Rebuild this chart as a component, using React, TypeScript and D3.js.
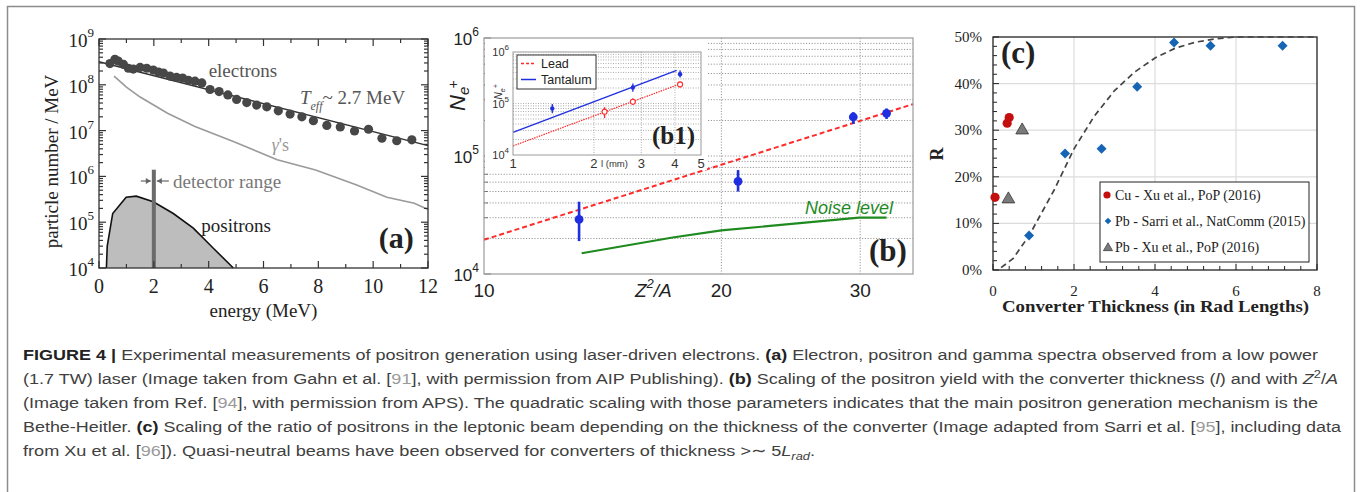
import React from "react";
import * as d3 from "d3";

// ---------- (a) spectra from a 1.7 TW laser ----------
const electronEnergy = [0.4, 0.58, 0.7, 0.89, 1.07, 1.25, 1.5, 1.74, 1.98, 2.17, 2.35, 2.59, 2.83, 3.05, 3.26, 3.5, 3.75, 4.05, 4.38, 4.7, 5.02, 5.39, 5.75, 6.12, 6.54, 6.97, 7.4, 7.82, 8.31, 8.8, 9.32, 9.83, 10.32, 10.86, 11.41];
const electronCount = [2.9e8, 3.6e8, 3.3e8, 2.8e8, 2.3e8, 2.2e8, 2.4e8, 2.3e8, 2.1e8, 1.9e8, 1.8e8, 1.55e8, 1.45e8, 1.4e8, 1.25e8, 1.2e8, 1.1e8, 7.9e7, 7.1e7, 6.0e7, 4.8e7, 4.1e7, 3.6e7, 3.3e7, 2.7e7, 2.3e7, 2.0e7, 1.65e7, 1.3e7, 1.2e7, 9.8e6, 1.07e7, 6.8e6, 6.0e6, 6.3e6];
const electronFitEnergy = [0, 12];
const electronFitCount = [3.2e8, 4.7e6];
const gammaEnergy = [0.55, 1.0, 1.5, 2.5, 3.5, 4.9, 6.5, 7.9, 9.4, 10.5, 11.5, 12.0];
const gammaCount = [1.55e8, 8.9e7, 5.4e7, 2.4e7, 1.23e7, 5.8e6, 2.3e6, 1.38e6, 6.5e5, 3.5e5, 2.6e5, 1.9e5];
const positronEnergy = [0.27, 0.3, 0.5, 0.99, 1.36, 1.98, 2.71, 3.44, 4.17, 4.9];
const positronCount = [1e4, 3.0e4, 1.55e5, 3.5e5, 3.7e5, 2.8e5, 1.55e5, 7.4e4, 2.7e4, 1e4];
const detectorEnergy = 2;
const detectorTop = 1.4e6;
const energyTicks = [0, 2, 4, 6, 8, 10, 12];

// ---------- (b) yield vs Z^2/A ----------
const zOverA = [13.2, 21.0, 29.4, 32.4];
const yieldVal = [2.9e4, 6.1e4, 2.14e5, 2.3e5];
const yieldLo = [1.9e4, 5.0e4, 1.87e5, 2.06e5];
const yieldHi = [4.1e4, 7.6e4, 2.35e5, 2.53e5];
const fitZ = [10, 35];
const fitYield = [1.95e4, 2.75e5];
const noiseZ = [13.3, 17.35, 20.0, 29.9, 32.4];
const noiseYield = [1.5e4, 2.04e4, 2.34e4, 3.0e4, 3.0e4];
const zTicks = [10, 20, 30];

// ---------- (b1) yield vs thickness ----------
const taThick = [1.4, 2.79, 4.18];
const taVal = [8e4, 2.05e5, 3.7e5];
const taLo = [6.5e4, 1.7e5, 3.2e5];
const taHi = [9.8e4, 2.45e5, 4.4e5];
const pbThick = [2.19, 2.79, 4.18];
const pbVal = [6.9e4, 1.08e5, 2.35e5];
const pbLo = [5.2e4, 9.3e4, 2.05e5];
const pbHi = [8.5e4, 1.26e5, 2.65e5];
const taFitThick = [1, 4.06];
const taFitVal = [2.75e4, 4.4e5];
const pbFitThick = [1, 4.18];
const pbFitVal = [1.5e4, 2.4e5];
const thickTicks = [1, 2, 3, 4, 5];

// ---------- (c) positron fraction vs converter thickness ----------
const cuThick = [0.05, 0.35, 0.4];
const cuR = [15.6, 31.5, 32.7];
const sarriThick = [0.89, 1.78, 2.68, 3.56, 4.47, 5.37, 7.15];
const sarriR = [7.4, 25.0, 26.0, 39.3, 48.8, 48.1, 48.1];
const xuPbThick = [0.38, 0.72];
const xuPbR = [15.4, 30.2];
const curveThick = [0.2, 0.5, 0.9, 1.5, 2.0, 2.5, 3.0, 3.5, 4.0, 4.5, 5.0, 5.5, 6.0, 7.0, 8.0];
const curveR = [0.5, 2.5, 7.5, 17, 26, 33, 38.5, 42.5, 45.5, 47.6, 48.9, 49.6, 50, 50, 50];
const radTicks = [0, 2, 4, 6, 8];
const rTicks = [0, 10, 20, 30, 40, 50];

type P = [number, number];
const pairs = (xs: number[], ys: number[]): P[] => xs.map((v, i) => [v, ys[i]]);

function logMinor(lo: number, hi: number) {
  const out: number[] = [];
  for (let e = lo; e < hi; e++) for (let m = 1; m <= 9; m++) out.push(m * 10 ** e);
  out.push(10 ** hi);
  return out;
}

const SERIF = "'Liberation Serif', 'Times New Roman', serif";
const SANS = "'Liberation Sans', Arial, Helvetica, sans-serif";

function PanelA() {
  const x = d3.scaleLinear().domain([0, 12]).range([99, 428]);
  const y = d3.scaleLog().domain([1e4, 1e9]).range([268, 39]);
  const line = d3.line<P>().x(d => x(d[0])).y(d => y(d[1]));
  const area = d3.area<P>().x(d => x(d[0])).y0(y(1e4)).y1(d => y(d[1]));
  const pos = pairs(positronEnergy, positronCount);
  const [x0, x1] = x.range();
  const [yb, yt] = y.range();
  const minorX = d3.range(1, 12, 2);
  const yTicks = logMinor(4, 9);
  const ay = 181;
  return (
    <g fontFamily={SERIF}>
      <path d={area(pos)!} fill="#bdbdbd" />
      <path d={line(pos)!} fill="none" stroke="#111" strokeWidth={1.6} />
      <path d={line(pairs(gammaEnergy, gammaCount))!} fill="none" stroke="#9a9a9a" strokeWidth={1.6} />
      <path d={line(pairs(electronFitEnergy, electronFitCount))!} fill="none" stroke="#333" strokeWidth={1.5} />
      {electronEnergy.map((e, i) => (
        <circle key={i} cx={x(e)} cy={y(electronCount[i])} r={4.6} fill="#474747" />
      ))}
      <rect x={x(detectorEnergy) - 2} y={y(detectorTop)} width={4} height={y(1e4) - y(detectorTop)} fill="#6b6b6b" />
      {/* detector range arrows */}
      <g stroke="#666" strokeWidth={1.2} fill="#666">
        <line x1={x(detectorEnergy) - 13} x2={x(detectorEnergy) - 3} y1={ay} y2={ay} />
        <path d={`M${x(detectorEnergy) - 3},${ay} l-5,-3 l0,6 z`} stroke="none" />
        <line x1={x(detectorEnergy) + 15} x2={x(detectorEnergy) + 3} y1={ay} y2={ay} />
        <path d={`M${x(detectorEnergy) + 3},${ay} l5,-3 l0,6 z`} stroke="none" />
      </g>
      <rect x={x0} y={yt} width={x1 - x0} height={yb - yt} fill="none" stroke="#333" strokeWidth={1.3} />
      <g stroke="#333" strokeWidth={1.2}>
        {energyTicks.map(t => (
          <g key={"M" + t}>
            <line x1={x(t)} x2={x(t)} y1={yb} y2={yb - 7} />
            <line x1={x(t)} x2={x(t)} y1={yt} y2={yt + 7} />
          </g>
        ))}
        {minorX.map(t => (
          <g key={"m" + t}>
            <line x1={x(t)} x2={x(t)} y1={yb} y2={yb - 4} />
            <line x1={x(t)} x2={x(t)} y1={yt} y2={yt + 4} />
          </g>
        ))}
        {yTicks.map((v, i) => {
          const len = Math.abs(Math.log10(v) % 1) < 1e-9 ? 7 : 4;
          return (
            <g key={"y" + i}>
              <line x1={x0} x2={x0 + len} y1={y(v)} y2={y(v)} />
              <line x1={x1} x2={x1 - len} y1={y(v)} y2={y(v)} />
            </g>
          );
        })}
      </g>
      <g fill="#222">
        {energyTicks.map(t => (
          <text key={t} x={x(t)} y={yb + 25} fontSize={20} textAnchor="middle">{t}</text>
        ))}
        {[4, 5, 6, 7, 8, 9].map(e => (
          <text key={e} x={x0 - 5} y={y(10 ** e) + 8} fontSize={19} textAnchor="end">
            10<tspan fontSize={13} dy={-10}>{e}</tspan>
          </text>
        ))}
        <text x={(x0 + x1) / 2} y={317} fontSize={19} textAnchor="middle">energy (MeV)</text>
        <text transform={`translate(58,${(yb + yt) / 2 + 8}) rotate(-90)`} fontSize={19} textAnchor="middle">
          particle number / MeV
        </text>
      </g>
      <text x={x(4.0)} y={77} fontSize={19} fill="#555">electrons</text>
      <text x={x(7.33)} y={104} fontSize={19} fill="#555">
        <tspan fontStyle="italic">T</tspan>
        <tspan fontStyle="italic" fontSize={12} dy={6}>eff</tspan>
        <tspan dy={-6}>~ 2.7 MeV</tspan>
      </text>
      <text x={x(6.3)} y={151} fontSize={18} fill="#999">
        <tspan fontStyle="italic">γ</tspan>'s
      </text>
      <text x={x(2.7)} y={188} fontSize={19} fill="#777">detector range</text>
      <text x={x(3.73)} y={232} fontSize={19} fill="#222">positrons</text>
      <text x={x(10.2)} y={248} fontSize={30} fontWeight="bold" fill="#222">(a)</text>
    </g>
  );
}

function PanelB() {
  const x = d3.scaleLog().domain([10, 35]).range([484, 913]);
  const y = d3.scaleLog().domain([1e4, 1e6]).range([274, 38]);
  const line = d3.line<P>().x(d => x(d[0])).y(d => y(d[1]));
  const [x0, x1] = x.range();
  const [yb, yt] = y.range();
  const grid = logMinor(4, 6).slice(1, -1);

  const xi = d3.scaleLog().domain([1, 5]).range([513, 701]);
  const yi = d3.scaleLog().domain([1e4, 1e6]).range([155, 52]);
  const linei = d3.line<P>().x(d => xi(d[0])).y(d => yi(d[1]));
  const [xi0, xi1] = xi.range();
  const [yib, yit] = yi.range();
  const blue = "#1f2fe0";
  const red = "#ff2a2a";

  return (
    <g fontFamily={SANS}>
      <g stroke="#9a9a9a" strokeWidth={1} strokeDasharray="1.2 1.6">
        {grid.map((v, i) => (
          <line key={i} x1={x0} x2={x1} y1={y(v)} y2={y(v)} />
        ))}
        {zTicks.slice(1).map(t => (
          <line key={t} x1={x(t)} x2={x(t)} y1={yt} y2={yb} />
        ))}
      </g>
      <g stroke="#777" strokeWidth={1}>
        {logMinor(4, 6).map((v, i) => {
          const len = Math.abs(Math.log10(v) % 1) < 1e-9 ? 7 : 4;
          return <line key={i} x1={x0} x2={x0 + len} y1={y(v)} y2={y(v)} />;
        })}
      </g>
      <path d={line(pairs(noiseZ, noiseYield))!} fill="none" stroke="#1f8a1f" strokeWidth={2.2} />
      <path d={line(pairs(fitZ, fitYield))!} fill="none" stroke={red} strokeWidth={2} strokeDasharray="5 3" />
      {zOverA.map((z, i) => (
        <g key={i}>
          <line x1={x(z)} x2={x(z)} y1={y(yieldLo[i])} y2={y(yieldHi[i])} stroke={blue} strokeWidth={2.6} />
          <circle cx={x(z)} cy={y(yieldVal[i])} r={4.4} fill={blue} />
        </g>
      ))}
      <rect x={x0} y={yt} width={x1 - x0} height={yb - yt} fill="none" stroke="#9a9a9a" strokeWidth={1.2} />

      {/* inset (b1) */}
      <rect x={x0 + 1} y={yt + 1} width={222} height={131} fill="#fff" />
      <g stroke="#a5a5a5" strokeWidth={0.9} strokeDasharray="1 1.5">
        {logMinor(4, 6).slice(1, -1).map((v, i) => (
          <line key={i} x1={xi0} x2={xi1} y1={yi(v)} y2={yi(v)} />
        ))}
        {thickTicks.slice(1, -1).map(t => (
          <line key={t} x1={xi(t)} x2={xi(t)} y1={yit} y2={yib} />
        ))}
      </g>
      <path d={linei(pairs(pbFitThick, pbFitVal))!} fill="none" stroke={red} strokeWidth={1.2} strokeDasharray="1.5 1" />
      <path d={linei(pairs(taFitThick, taFitVal))!} fill="none" stroke={blue} strokeWidth={1.3} />
      {taThick.map((t, i) => (
        <g key={"ta" + i}>
          <line x1={xi(t)} x2={xi(t)} y1={yi(taLo[i])} y2={yi(taHi[i])} stroke={blue} strokeWidth={1.3} />
          <circle cx={xi(t)} cy={yi(taVal[i])} r={2.2} fill={blue} />
        </g>
      ))}
      {pbThick.map((t, i) => (
        <g key={"pb" + i}>
          <line x1={xi(t)} x2={xi(t)} y1={yi(pbLo[i])} y2={yi(pbHi[i])} stroke={red} strokeWidth={1.3} />
          <circle cx={xi(t)} cy={yi(pbVal[i])} r={2.5} fill="#fff" stroke={red} strokeWidth={1.1} />
        </g>
      ))}
      <rect x={xi0} y={yit} width={xi1 - xi0} height={yib - yit} fill="none" stroke="#9a9a9a" strokeWidth={1} />
      <g fill="#333">
        {[4, 5, 6].map(e => (
          <text key={e} x={xi0 - 4} y={yi(10 ** e) + 4} fontSize={11} textAnchor="end">
            10<tspan fontSize={8} dy={-6}>{e}</tspan>
          </text>
        ))}
        {thickTicks.map(t => (
          <text key={t} x={xi(t)} y={yib + 13} fontSize={13} textAnchor="middle">{t}</text>
        ))}
        <text x={601} y={yib + 12} fontSize={9.5}>l (mm)</text>
        <text transform={`translate(${xi0 - 11},${yi(1.2e5)}) rotate(-90)`} fontSize={10} fontStyle="italic">
          N<tspan fontSize={7} dy={3}>e</tspan>
          <tspan fontSize={7} dy={-7}>+</tspan>
        </text>
      </g>
      <g>
        <rect x={517} y={55} width={79} height={34} fill="#fff" stroke="#333" strokeWidth={1} />
        <line x1={521} x2={536} y1={63.5} y2={63.5} stroke={red} strokeWidth={1.5} strokeDasharray="3 2" />
        <line x1={521} x2={536} y1={79.5} y2={79.5} stroke={blue} strokeWidth={1.5} />
        <text x={541} y={68} fontSize={12.5} fill="#222">Lead</text>
        <text x={541} y={84} fontSize={12.5} fill="#222">Tantalum</text>
      </g>
      <text x={652} y={144} fontFamily={SERIF} fontSize={25} fontWeight="bold" fill="#222">(b1)</text>

      <g fill="#222">
        {[4, 5, 6].map(e => (
          <text key={e} x={x0 - 5} y={y(10 ** e) + 7} fontSize={17} textAnchor="end">
            10<tspan fontSize={12} dy={-9}>{e}</tspan>
          </text>
        ))}
        {zTicks.map(t => (
          <text key={t} x={x(t)} y={yb + 23} fontSize={19} textAnchor="middle">{t}</text>
        ))}
        <text x={635} y={297} fontSize={19} fontStyle="italic">
          Z<tspan fontSize={13} dy={-9}>2</tspan>
          <tspan dy={9}>/A</tspan>
        </text>
        <text transform={`translate(465,111) rotate(-90)`} fontSize={22} fontStyle="italic">
          N<tspan fontSize={15} dy={4}>e</tspan>
          <tspan fontSize={14} dx={-2} dy={-11}>+</tspan>
        </text>
      </g>
      <text x={805} y={214} fontSize={18} fontStyle="italic" fill="#1f8a1f">Noise level</text>
      <text x={869} y={261} fontFamily={SERIF} fontSize={31} fontWeight="bold" fill="#222">(b)</text>
    </g>
  );
}

function PanelC() {
  const x = d3.scaleLinear().domain([0, 8]).range([993, 1317]);
  const y = d3.scaleLinear().domain([0, 50]).range([270, 37]);
  const line = d3.line<P>().x(d => x(d[0])).y(d => y(d[1]));
  const [x0, x1] = x.range();
  const [yb, yt] = y.range();
  const dia = d3.symbol(d3.symbolSquare, 50)()!;
  const tri = d3.symbol(d3.symbolTriangle, 70)()!;
  const tri2 = d3.symbol(d3.symbolTriangle, 36)()!;
  const redC = "#c40f0f";
  const blueC = "#1565b4";
  const grayT = "#7a7a7a";
  const minorX = d3.range(0, 8.01, 0.4);
  const minorY = d3.range(0, 50.01, 2);
  return (
    <g fontFamily={SERIF}>
      <g stroke="#dcdcdc" strokeWidth={1.2}>
        {radTicks.slice(1, -1).map(t => (
          <line key={t} x1={x(t)} x2={x(t)} y1={yt} y2={yb} />
        ))}
        {rTicks.slice(1, -1).map(t => (
          <line key={t} x1={x0} x2={x1} y1={y(t)} y2={y(t)} />
        ))}
      </g>
      <rect x={x0} y={yt} width={x1 - x0} height={yb - yt} fill="none" stroke="#222" strokeWidth={1.3} />
      <g stroke="#222" strokeWidth={1}>
        {minorX.map((t, i) => (
          <line key={"x" + i} x1={x(t)} x2={x(t)} y1={yb} y2={yb - (i % 5 === 0 ? 6 : 4)} />
        ))}
        {minorY.map((t, i) => (
          <line key={"y" + i} x1={x0} x2={x0 + (i % 5 === 0 ? 6 : 4)} y1={y(t)} y2={y(t)} />
        ))}
      </g>
      <path d={line(pairs(curveThick, curveR))!} fill="none" stroke="#444" strokeWidth={1.7} strokeDasharray="6 4" />
      {cuThick.map((t, i) => (
        <circle key={"cu" + i} cx={x(t)} cy={y(cuR[i])} r={4.6} fill={redC} />
      ))}
      {xuPbThick.map((t, i) => (
        <path key={"xu" + i} d={tri} transform={`translate(${x(t)},${y(xuPbR[i]) + 1})`} fill={grayT} stroke="#333" strokeWidth={0.8} />
      ))}
      {sarriThick.map((t, i) => (
        <path key={"sa" + i} d={dia} transform={`translate(${x(t)},${y(sarriR[i])}) rotate(45)`} fill={blueC} />
      ))}
      {/* legend */}
      <rect x={1100} y={182} width={209} height={80} fill="#fff" stroke="#222" strokeWidth={1} />
      <circle cx={1107} cy={195} r={3.6} fill={redC} />
      <path d={d3.symbol(d3.symbolSquare, 22)()!} transform="translate(1108,221) rotate(45)" fill={blueC} />
      <path d={tri2} transform="translate(1108,248)" fill={grayT} stroke="#333" strokeWidth={0.7} />
      <g fontSize={14} fill="#222">
        <text x={1115} y={200}>Cu - Xu et al., PoP (2016)</text>
        <text x={1115} y={226}>Pb - Sarri et al., NatComm (2015)</text>
        <text x={1115} y={252}>Pb - Xu et al., PoP (2016)</text>
      </g>
      <g fill="#222" fontSize={15}>
        {rTicks.map(t => (
          <text key={t} x={x0 - 11} y={y(t) + 5} textAnchor="end">{t}%</text>
        ))}
        {radTicks.map(t => (
          <text key={t} x={x(t)} y={yb + 26} textAnchor="middle">{t}</text>
        ))}
      </g>
      <text x={1002} y={312} fontSize={17} fontWeight="bold" fill="#222" textLength={307} lengthAdjust="spacingAndGlyphs">
        Converter Thickness (in Rad Lengths)
      </text>
      <text transform="translate(943,154) rotate(-90)" fontSize={18} fontWeight="bold" fill="#222" textAnchor="middle">R</text>
      <text x={1001} y={63} fontSize={31} fontWeight="bold" fill="#222">(c)</text>
    </g>
  );
}

type Seg = { t: string; s?: "b" | "g" | "i" | "sup" | "isub" };
const captionLines: { segs: Seg[]; w: number }[] = [
  {
    w: 1295,
    segs: [
      { t: "FIGURE 4 |", s: "b" },
      { t: " Experimental measurements of positron generation using laser-driven electrons. " },
      { t: "(a)", s: "b" },
      { t: " Electron, positron and gamma spectra observed from a low power" },
    ],
  },
  {
    w: 1315,
    segs: [
      { t: "(1.7 TW) laser (Image taken from Gahn et al. [" },
      { t: "91", s: "g" },
      { t: "], with permission from AIP Publishing). " },
      { t: "(b)", s: "b" },
      { t: " Scaling of the positron yield with the converter thickness (" },
      { t: "l", s: "i" },
      { t: ") and with " },
      { t: "Z", s: "i" },
      { t: "2", s: "sup" },
      { t: "/" },
      { t: "A", s: "i" },
    ],
  },
  {
    w: 1295,
    segs: [
      { t: "(Image taken from Ref. [" },
      { t: "94", s: "g" },
      { t: "], with permission from APS). The quadratic scaling with those parameters indicates that the main positron generation mechanism is the" },
    ],
  },
  {
    w: 1318,
    segs: [
      { t: "Bethe-Heitler. " },
      { t: "(c)", s: "b" },
      { t: " Scaling of the ratio of positrons in the leptonic beam depending on the thickness of the converter (Image adapted from Sarri et al. [" },
      { t: "95", s: "g" },
      { t: "], including data" },
    ],
  },
  {
    w: 792,
    segs: [
      { t: "from Xu et al. [" },
      { t: "96", s: "g" },
      { t: "]). Quasi-neutral beams have been observed for converters of thickness >∼ 5" },
      { t: "L", s: "i" },
      { t: "rad", s: "isub" },
      { t: "." },
    ],
  },
];

function Caption() {
  return (
    <g fontFamily={SANS} fontSize={15.5} fill="#404040">
      {captionLines.map((ln, li) => {
        let shift = 0;
        return (
          <text key={li} x={23} y={360 + li * 24} textLength={ln.w} lengthAdjust="spacingAndGlyphs">
            {ln.segs.map((sg, si) => {
              const target = sg.s === "sup" ? -6 : sg.s === "isub" ? 4 : 0;
              const dy = target - shift;
              shift = target;
              return (
                <tspan
                  key={si}
                  dy={dy || undefined}
                  fontWeight={sg.s === "b" ? "bold" : undefined}
                  fontStyle={sg.s === "i" || sg.s === "isub" ? "italic" : undefined}
                  fontSize={sg.s === "sup" || sg.s === "isub" ? 11 : undefined}
                  fill={sg.s === "g" ? "#9a9a9a" : sg.s === "b" ? "#222" : undefined}
                >
                  {sg.t}
                </tspan>
              );
            })}
          </text>
        );
      })}
    </g>
  );
}

export default function App() {
  const W = 1360;
  const H = 492;
  return (
    <svg width={W} height={H} viewBox={`0 0 ${W} ${H}`} style={{ position: "absolute", left: 0, top: 0, background: "#fff" }}>
      <rect width={W} height={H} fill="#fff" />
      <rect x={7.5} y={6.5} width={1347} height={500} fill="none" stroke="#8c8c8c" strokeWidth={1.5} />
      <PanelA />
      <PanelB />
      <PanelC />
      <Caption />
    </svg>
  );
}
